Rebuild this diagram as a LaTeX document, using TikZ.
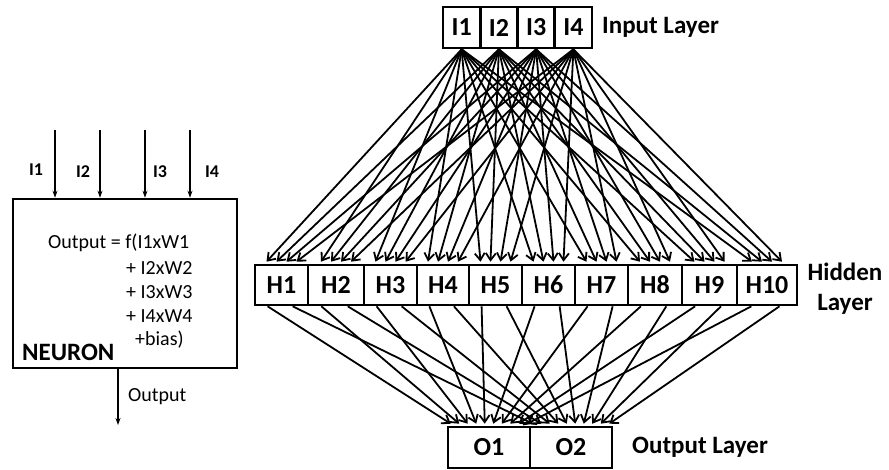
\documentclass[tikz,border=0pt]{standalone}
\usepackage{fontspec}
\setmainfont{Carlito}
\usetikzlibrary{arrows.meta,calc}
\begin{document}
\begin{tikzpicture}[x=1pt,y=-1pt,
  cell/.style={draw,line width=2.6pt,inner sep=0pt,
    font=\fontsize{26}{29}\selectfont\bfseries},
  layerlabel/.style={inner sep=0pt,font=\fontsize{25}{28}\selectfont\bfseries},
  link/.style={line width=1.8pt,-{Straight Barb[length=7pt,width=10pt]}},
  nlink/.style={line width=1.5pt,-{Stealth[length=7pt,width=5pt]}},
  formula/.style={anchor=west,inner sep=0pt,font=\fontsize{20}{24}\selectfont},
  inlabel/.style={inner sep=0pt,font=\fontsize{18}{20}\selectfont\bfseries},
]
\useasboundingbox (0,0) rectangle (889,469);

% ---------- single neuron ----------
\node[draw,line width=2.6pt,minimum width=224pt,minimum height=169pt,inner sep=0pt]
  (neuron) at (125,283.5) {};
\foreach \x [count=\k] in {55,100,145,190}
  \coordinate (nin\k) at (\x,130);
\foreach \k in {1,...,4}
  \draw[nlink] (nin\k) -- (nin\k |- neuron.north);
\node[inlabel] (nl1) at (36,170) {I1};
\node[inlabel] (nl2) at (83,172) {I2};
\node[inlabel] (nl3) at (160,172) {I3};
\node[inlabel] (nl4) at (212,172) {I4};

\node[formula] (f1) at (48,243) {Output = f(I1xW1};
\node[formula] (f2) at (126,268) {+ I2xW2};
\node[formula] (f3) at (126,292) {+ I3xW3};
\node[formula] (f4) at (126,316) {+ I4xW4};
\node[formula] (f5) at (135,340) {+bias)};
\node[anchor=west,inner sep=0pt,font=\fontsize{25}{28}\selectfont\bfseries]
  (nname) at (22,352) {NEURON};

\coordinate (nout) at (118,425);
\draw[nlink] (neuron.south -| nout) -- (nout);
\node[formula] (outlabel) at (128,397) {Output};

% ---------- input layer ----------
\foreach \i in {1,...,4}
  \node[cell,minimum width=37.25pt,minimum height=41pt] (I\i)
    at ({443+37.25*(\i-0.5)},27.5) {I\i};
\node[layerlabel,anchor=west] (inlab) at (602,27) {Input Layer};

% ---------- hidden layer ----------
\foreach \a/\b [count=\j] in {255/308,308/364,364/417,417/469,469/522,
                               522/575,575/628,628/682,682/737,737/797}{
  \pgfmathsetmacro{\w}{\b-\a}
  \pgfmathsetmacro{\c}{(\a+\b)/2}
  \node[cell,minimum width=\w pt,minimum height=40pt] (H\j) at (\c,285) {H\j};
}
\node[layerlabel,align=center] (hidlab) at (845,289) {Hidden\\[2pt]Layer};

% ---------- output layer ----------
\node[cell,minimum width=82pt,minimum height=41pt] (O1) at (489,447.5) {O1};
\node[cell,minimum width=82pt,minimum height=41pt] (O2) at (571,447.5) {O2};
\node[layerlabel,anchor=west] (outlab) at (632,447) {Output Layer};

% ---------- connections ----------
\foreach \i in {1,...,4}
  \foreach \j in {1,...,10}
    \draw[link] (I\i.south) -- ([xshift={(\i-2.5)*10pt},yshift=2pt]H\j.north);

\foreach \j in {1,...,10}{
  \draw[link] ($(H\j.south west)!0.25!(H\j.south east)$)
    -- ([xshift={(\j-5.5)*8.5pt},yshift=2pt]O1.north);
  \draw[link] ($(H\j.south west)!0.7!(H\j.south east)$)
    -- ([xshift={(\j-5.5)*8.5pt},yshift=2pt]O2.north);
}
\end{tikzpicture}
\end{document}
